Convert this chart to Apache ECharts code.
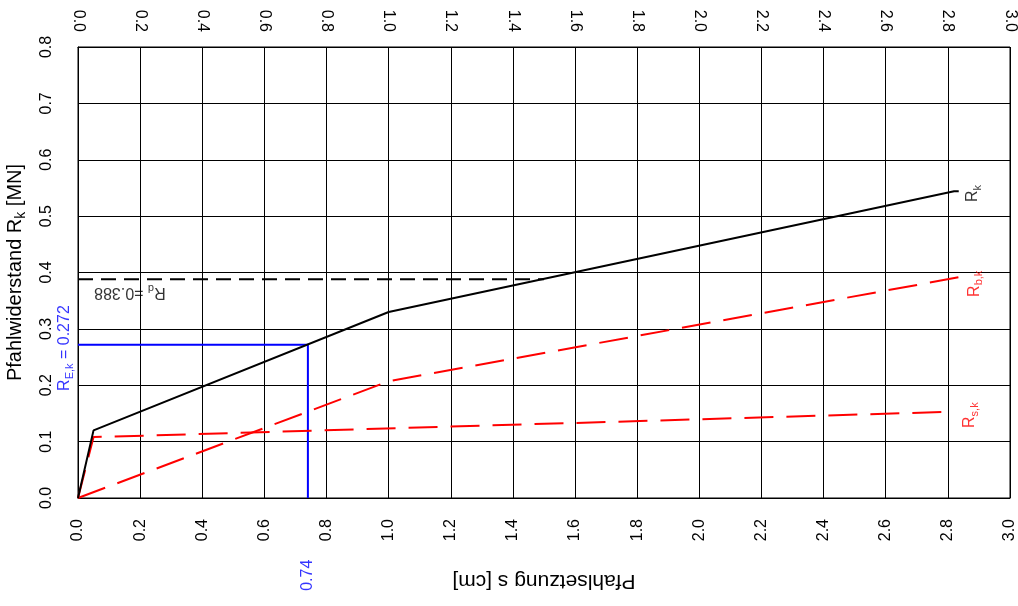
<!DOCTYPE html>
<html><head><meta charset="utf-8">
<script src="https://cdn.jsdelivr.net/npm/echarts@6/dist/echarts.min.js"></script>
<style>html,body{margin:0;padding:0;background:#fff}#c{width:1018px;height:606px}</style>
</head><body><div id="c"></div>
<script>
// ---- data ----
const sRk  = [0, 0.05, 1.0, 2.82, 2.835];
const rRk  = [0, 0.12, 0.33, 0.544, 0.544];
const sRb  = [0, 1.0, 2.84];
const rRb  = [0, 0.207, 0.392];
const sRs  = [0, 0.05, 2.82];
const rRs  = [0, 0.108, 0.153];
const Rd   = 0.388;
const sRdEnd = 1.5;
const REk  = 0.272;
const sEk  = 0.74;
const xMin = 0, xMax = 3.0, xStep = 0.2;
const yMin = 0, yMax = 0.8, yStep = 0.1;

const FONT = 'Liberation Sans, Arial, sans-serif';
const zip = (a, b) => a.map((v, i) => [v, b[i]]);
const last = a => a[a.length - 1];
const subRich = (fs, col) => ({
  m: {fontSize: fs, color: col, fontFamily: FONT},
  sub: {fontSize: Math.round(fs * 0.68), color: col, fontFamily: FONT, verticalAlign: 'bottom', padding: [Math.round(fs*0.6), 0, 0, 0]}
});

function annot(name, pt, text, color, rotate, fs) {
  return {
    type: 'scatter', name: name, silent: true, clip: false, z: 10,
    symbolSize: 1, itemStyle: {color: 'transparent'},
    data: [pt],
    label: {
      show: true, position: 'inside', rotate: rotate,
      align: 'center', verticalAlign: 'middle',
      color: color, fontSize: fs, fontFamily: FONT,
      formatter: text, rich: subRich(fs, color)
    }
  };
}

const chart = echarts.init(document.getElementById('c'), null, {renderer: 'canvas'});
const axisLabelCommon = {color: '#000', fontSize: 16, fontFamily: FONT, rotate: 90, formatter: v => v.toFixed(1)};
const option = {
  animation: false,
  backgroundColor: '#fff',
  textStyle: {fontFamily: FONT},
  grid: {left: 78, right: 8, top: 47, bottom: 108, show: true, borderColor: '#000', borderWidth: 1,
         containLabel: false, outerBoundsMode: 'none'},
  xAxis: [
    {
      type: 'value', position: 'bottom', min: xMin, max: xMax, interval: xStep,
      name: 'Pfahlsetzung s [cm]', nameLocation: 'middle', nameGap: 72, nameRotate: 180,
      nameTextStyle: {fontSize: 21, color: '#000', fontFamily: FONT},
      axisLine: {show: true, lineStyle: {color: '#000', width: 1}},
      axisTick: {show: false},
      axisLabel: Object.assign({margin: 21}, axisLabelCommon),
      splitLine: {show: true, lineStyle: {color: '#000', width: 1}}
    },
    {
      type: 'value', position: 'top', min: xMin, max: xMax, interval: xStep,
      axisLine: {show: true, lineStyle: {color: '#000', width: 1}},
      axisTick: {show: false},
      axisLabel: Object.assign({margin: 15}, axisLabelCommon),
      splitLine: {show: false}
    }
  ],
  yAxis: {
    type: 'value', min: yMin, max: yMax, interval: yStep,
    name: '{m|Pfahlwiderstand R}{sub|k}{m| [MN]}', nameLocation: 'middle', nameGap: 50, nameRotate: 90,
    nameTextStyle: {fontSize: 20, color: '#000', fontFamily: FONT, rich: subRich(20, '#000')},
    axisLine: {show: true, lineStyle: {color: '#000', width: 1}},
    axisTick: {show: false},
    axisLabel: Object.assign({margin: 23}, axisLabelCommon),
    splitLine: {show: true, lineStyle: {color: '#000', width: 1}}
  },
  series: [
    {type: 'line', name: 'Rk', data: zip(sRk, rRk), showSymbol: false, symbol: 'none', silent: true, z: 5,
     lineStyle: {color: '#000', width: 2}},
    {type: 'line', name: 'Rbk', data: zip(sRb, rRb), showSymbol: false, symbol: 'none', silent: true, z: 4,
     lineStyle: {color: '#ff0000', width: 2, type: [29, 13]}},
    {type: 'line', name: 'Rsk', data: zip(sRs, rRs), showSymbol: false, symbol: 'none', silent: true, z: 4,
     lineStyle: {color: '#ff0000', width: 2, type: [29, 13]}},
    {type: 'line', name: 'Rd', data: [[xMin, Rd], [sRdEnd, Rd]], showSymbol: false, symbol: 'none', silent: true, z: 3,
     lineStyle: {color: '#000', width: 2, type: [15, 8]}},
    {type: 'line', name: 'REk', data: [[xMin, REk], [sEk, REk], [sEk, yMin]], showSymbol: false, symbol: 'none', silent: true, z: 3,
     lineStyle: {color: '#0000ff', width: 2}},
    annot('lblRk', [last(sRk) + 0.045, last(rRk) - 0.004], '{m|R}{sub|k}', '#000', 90, 16),
    annot('lblRb', [last(sRb) + 0.045, last(rRb) - 0.012], '{m|R}{sub|b,k}', '#ff0000', 90, 16),
    annot('lblRs', [last(sRs) + 0.05, last(rRs) - 0.006], '{m|R}{sub|s,k}', '#ff0000', 90, 16),
    annot('lblRd', [xMin + 0.167, Rd - 0.024], '{m|R}{sub|d}{m| =' + Rd.toFixed(3) + '}', '#000', 180, 16),
    annot('lblREk', [xMin - 0.042, REk - 0.006], '{m|R}{sub|E,k}{m| = ' + REk.toFixed(3) + '}', '#0000ff', 90, 16),
    annot('lblsEk', [sEk, yMin - 0.137], '{m|' + sEk.toFixed(2) + '}', '#0000ff', 90, 16)
  ]
};
chart.setOption(option);
</script>
</body></html>
